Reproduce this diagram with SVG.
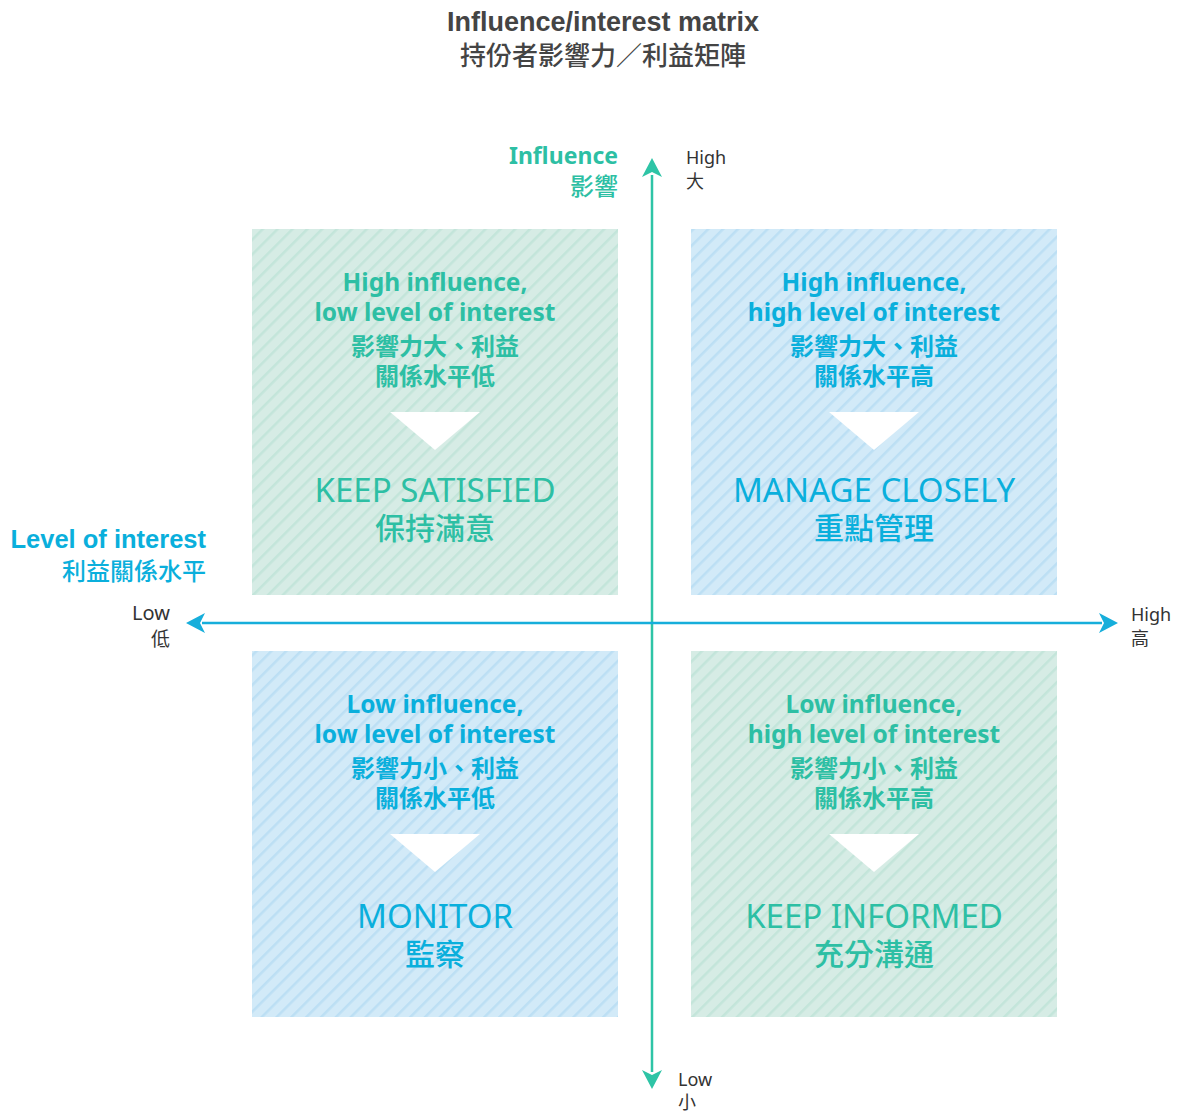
<svg xmlns="http://www.w3.org/2000/svg" width="1178" height="1111" viewBox="0 0 1178 1111">
<style>
.title{font-family:"Liberation Sans","Noto Sans CJK TC",sans-serif;font-weight:bold;font-size:27px;fill:#444}
.titlezh{font-family:"Noto Sans CJK TC",sans-serif;font-weight:500;font-size:26px;fill:#444}
.ax{font-family:"Noto Sans","Noto Sans CJK TC",sans-serif;font-size:18px;fill:#333}
.axzh{font-family:"Noto Sans CJK TC",sans-serif;font-size:18px;fill:#333}
.h{font-family:"Noto Sans","Noto Sans CJK TC",sans-serif;font-weight:bold;font-size:24.5px;text-anchor:middle}
.hzh{font-family:"Noto Sans CJK TC",sans-serif;font-weight:bold;font-size:24px;text-anchor:middle}
.big{font-family:"Noto Sans","Open Sans",sans-serif;font-weight:normal;font-size:33px;text-anchor:middle}
.bigzh{font-family:"Noto Sans CJK TC",sans-serif;font-weight:500;font-size:30px;text-anchor:middle}
.g{fill:#2dbfa4}
.b{fill:#0aafdc}
.lbl{font-family:"Liberation Sans","Noto Sans CJK TC",sans-serif;font-weight:bold;font-size:25.5px;text-anchor:end}
.lblzh{font-family:"Noto Sans CJK TC",sans-serif;font-weight:500;font-size:24px;text-anchor:end}
</style>
<defs>
<pattern id="pg" patternUnits="userSpaceOnUse" width="10.5" height="10.5" patternTransform="rotate(45)">
<rect width="10.5" height="10.5" fill="#d6ece5"/>
<rect width="2.5" height="10.5" fill="#c3e5da"/>
</pattern>
<pattern id="pb" patternUnits="userSpaceOnUse" width="10.5" height="10.5" patternTransform="rotate(45)">
<rect width="10.5" height="10.5" fill="#d2eaf8"/>
<rect width="2.5" height="10.5" fill="#bcdff4"/>
</pattern>
</defs>

<g id="title">
<text class="title" x="603" y="31" text-anchor="middle">Influence/interest matrix</text>
<text class="titlezh" x="603" y="65" text-anchor="middle">持份者影響力／利益矩陣</text>
</g>

<g id="connectors">
<line x1="652" y1="175" x2="652" y2="1072" stroke="#2ec4a6" stroke-width="2.5"/>
<path d="M652,158 L662,177 L652,172 L642,177 Z" fill="#2ec4a6"/>
<path d="M652,1089 L662,1070 L652,1075 L642,1070 Z" fill="#2ec4a6"/>
<line x1="202" y1="623" x2="1102" y2="623" stroke="#16aedb" stroke-width="2.5"/>
<path d="M186,623 L205,613 L200,623 L205,633 Z" fill="#16aedb"/>
<path d="M1118,623 L1099,613 L1104,623 L1099,633 Z" fill="#16aedb"/>
</g>

<g id="axis-labels">
<text class="lbl g" x="618" y="164" style="font-family:'Noto Sans',sans-serif;font-size:23px">Influence</text>
<text class="lblzh g" x="618" y="195">影響</text>
<text class="ax" x="686" y="164">High</text>
<text class="axzh" x="686" y="188">大</text>
<text class="lbl b" x="206" y="548">Level of interest</text>
<text class="lblzh b" x="206" y="580">利益關係水平</text>
<text class="ax" x="170" y="620" text-anchor="end" style="font-size:20px">Low</text>
<text class="axzh" x="170" y="646" text-anchor="end" style="font-size:19px">低</text>
<text class="ax" x="1131" y="621">High</text>
<text class="axzh" x="1131" y="645">高</text>
<text class="ax" x="678" y="1086">Low</text>
<text class="axzh" x="678" y="1109">小</text>
</g>

<g id="keep-satisfied">
<rect x="252" y="229" width="366" height="366" fill="url(#pg)"/>
<text class="h g" x="435" y="291">High influence,</text>
<text class="h g" x="435" y="321">low level of interest</text>
<text class="hzh g" x="435" y="355">影響力大、利益</text>
<text class="hzh g" x="435" y="385">關係水平低</text>
<path d="M390,412 L480,412 L435,450 Z" fill="#fff"/>
<text class="big g" x="435" y="502">KEEP SATISFIED</text>
<text class="bigzh g" x="435" y="539">保持滿意</text>
</g>

<g id="manage-closely">
<rect x="691" y="229" width="366" height="366" fill="url(#pb)"/>
<text class="h b" x="874" y="291">High influence,</text>
<text class="h b" x="874" y="321">high level of interest</text>
<text class="hzh b" x="874" y="355">影響力大、利益</text>
<text class="hzh b" x="874" y="385">關係水平高</text>
<path d="M829,412 L919,412 L874,450 Z" fill="#fff"/>
<text class="big b" x="874" y="502">MANAGE CLOSELY</text>
<text class="bigzh b" x="874" y="539">重點管理</text>
</g>

<g id="monitor">
<rect x="252" y="651" width="366" height="366" fill="url(#pb)"/>
<text class="h b" x="435" y="713">Low influence,</text>
<text class="h b" x="435" y="743">low level of interest</text>
<text class="hzh b" x="435" y="777">影響力小、利益</text>
<text class="hzh b" x="435" y="807">關係水平低</text>
<path d="M390,834 L480,834 L435,872 Z" fill="#fff"/>
<text class="big b" x="435" y="928">MONITOR</text>
<text class="bigzh b" x="435" y="965">監察</text>
</g>

<g id="keep-informed">
<rect x="691" y="651" width="366" height="366" fill="url(#pg)"/>
<text class="h g" x="874" y="713">Low influence,</text>
<text class="h g" x="874" y="743">high level of interest</text>
<text class="hzh g" x="874" y="777">影響力小、利益</text>
<text class="hzh g" x="874" y="807">關係水平高</text>
<path d="M829,834 L919,834 L874,872 Z" fill="#fff"/>
<text class="big g" x="874" y="928">KEEP INFORMED</text>
<text class="bigzh g" x="874" y="965">充分溝通</text>
</g>
</svg>
